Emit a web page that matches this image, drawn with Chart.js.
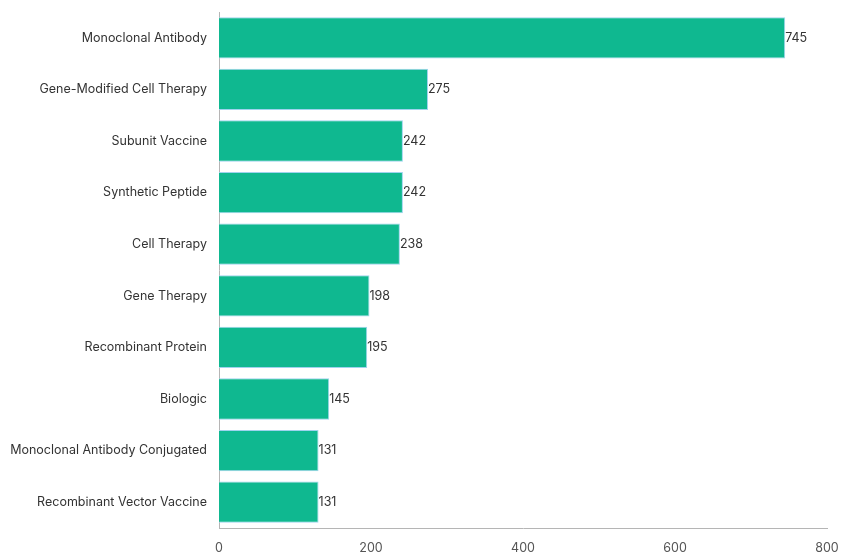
<!DOCTYPE html>
<html>
<head>
<meta charset="utf-8">
<script src="https://cdn.jsdelivr.net/npm/chart.js@4"></script>
<style>
  html, body { margin: 0; padding: 0; background: #fff; }
  #wrap { width: 841px; height: 555px; }
</style>
</head>
<body>
<div id="wrap"><canvas id="barChart"></canvas></div>
<script>
const categories = [
    'Monoclonal Antibody',
    'Gene-Modified Cell Therapy',
    'Subunit Vaccine',
    'Synthetic Peptide',
    'Cell Therapy',
    'Gene Therapy',
    'Recombinant Protein',
    'Biologic',
    'Monoclonal Antibody Conjugated',
    'Recombinant Vector Vaccine'
];
const counts = [745, 275, 242, 242, 238, 198, 195, 145, 131, 131];
const xTicks = [0, 200, 400, 600, 800];

// simple value labels at the end of each bar
const valueLabels = {
    id: 'valueLabels',
    afterDatasetsDraw(chart) {
        const ctx = chart.ctx;
        const meta = chart.getDatasetMeta(0);
        ctx.save();
        ctx.font = '12.5px Inter, "Open Sans", sans-serif';
        ctx.fillStyle = '#333';
        ctx.textAlign = 'left';
        ctx.textBaseline = 'middle';
        meta.data.forEach((bar, i) => {
            ctx.fillText(String(counts[i]), bar.x, bar.y);
        });
        ctx.restore();
    }
};

const ctx = document.getElementById('barChart').getContext('2d');
new Chart(ctx, {
    type: 'bar',
    data: {
        labels: categories,
        datasets: [{
            data: counts,
            backgroundColor: '#0fb890',
            borderColor: '#9fd3ee',
            borderWidth: 1,
            barPercentage: 0.8,
            categoryPercentage: 1.0
        }]
    },
    options: {
        indexAxis: 'y',
        responsive: true,
        maintainAspectRatio: false,
        animation: false,
        layout: { padding: { top: 12, right: 14, bottom: 0, left: 0 } },
        plugins: {
            legend: { display: false },
            tooltip: { enabled: false }
        },
        scales: {
            x: {
                min: 0,
                max: 800,
                afterBuildTicks: (axis) => { axis.ticks = xTicks.map(v => ({ value: v })); },
                afterFit: (scale) => {
                    scale.height = 27;
                    scale.paddingLeft = 0;
                    scale.paddingRight = 0;
                },
                grid: { display: false, drawTicks: false },
                border: { display: true, color: '#b5b5b5' },
                ticks: {
                    padding: 13,
                    color: '#555',
                    font: { family: 'Inter, "Open Sans", sans-serif', size: 12.5 }
                }
            },
            y: {
                afterFit: (scale) => {
                    scale.width = 219;
                    scale.paddingTop = 0;
                    scale.paddingBottom = 0;
                },
                grid: { display: false, drawTicks: false },
                border: { display: true, color: '#b5b5b5' },
                ticks: {
                    padding: 12,
                    color: '#333',
                    font: { family: 'Inter, "Open Sans", sans-serif', size: 12.5 }
                }
            }
        }
    },
    plugins: [valueLabels]
});
</script>
</body>
</html>
